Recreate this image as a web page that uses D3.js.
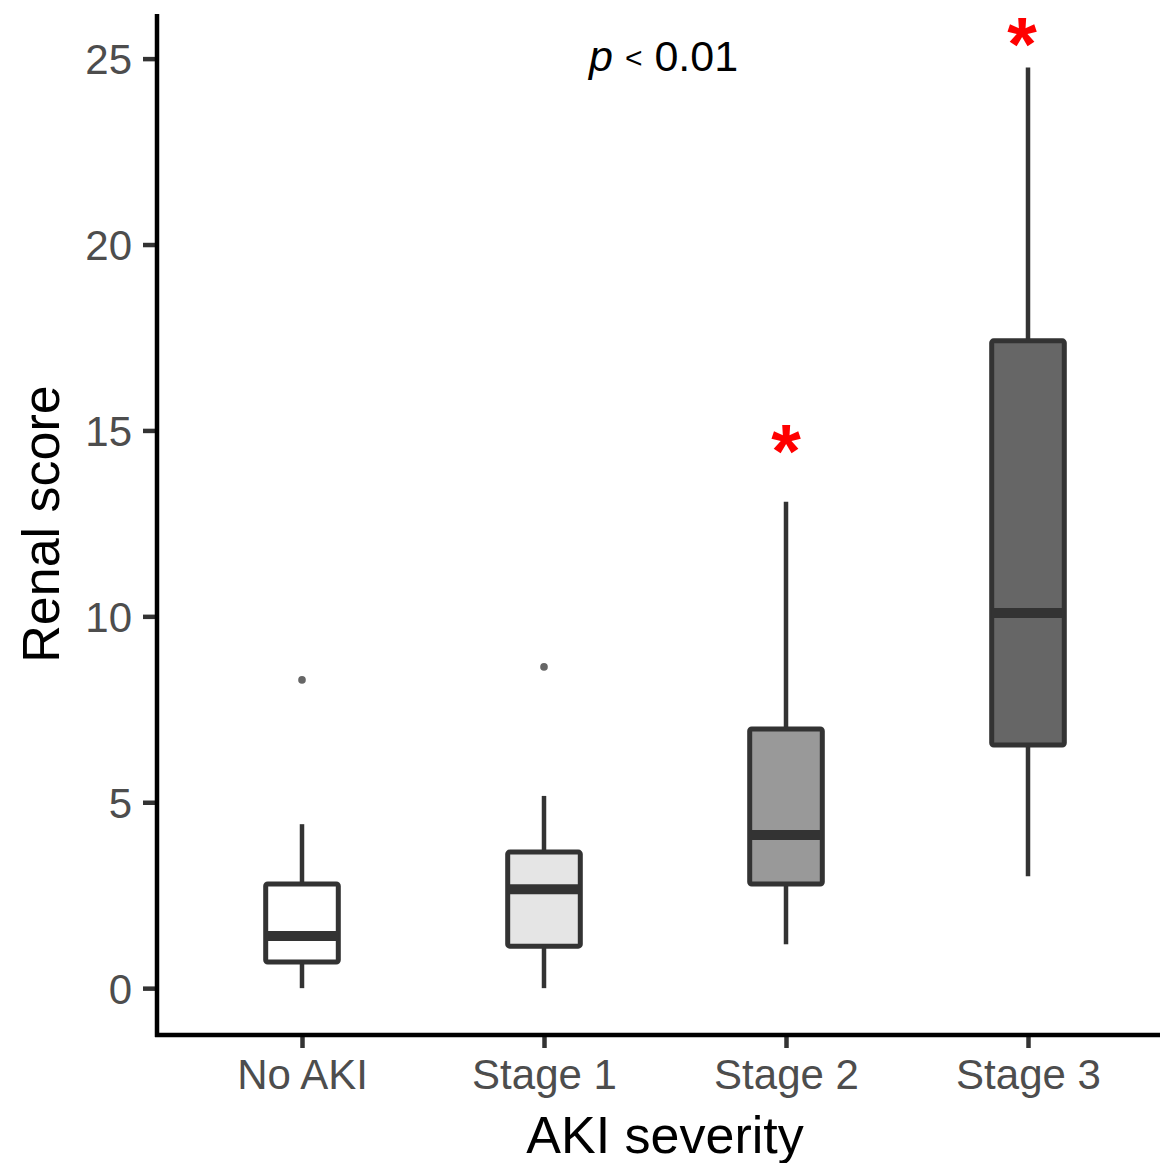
<!DOCTYPE html>
<html><head><meta charset="utf-8">
<script src="https://cdn.jsdelivr.net/npm/d3@7"></script>
<style>body{margin:0;background:#fff}svg{display:block}</style>
</head><body>
<script>
const categories = ["No AKI", "Stage 1", "Stage 2", "Stage 3"];
const lowerWhisker = [0, 0, 1.18, 3.01];
const q1 = [0.70, 1.13, 2.80, 6.54];
const median = [1.40, 2.66, 4.12, 10.09];
const q3 = [2.80, 3.66, 6.97, 17.41];
const upperWhisker = [4.41, 5.17, 13.08, 24.76];
const outliers = [[8.29], [8.64], [], []];
const fills = ["#FFFFFF", "#E5E5E5", "#999999", "#666666"];
const starCategories = ["Stage 2", "Stage 3"];
const starValues = [14.75, 25.7];
const yTicks = [0, 5, 10, 15, 20, 25];

const W = 1160, H = 1163;
const svg = d3.select("body").append("svg").attr("width", W).attr("height", H);

const x = d3.scalePoint().domain(categories).range([302, 1028]);
const step = 242;
const y = d3.scaleLinear().domain([-1.26, 26.2]).range([1035, 14]);
const boxW = step * 0.3;
const ink = "#333333";
const font = "Liberation Sans, Arial, Helvetica, sans-serif";

const data = categories.map((c, i) => ({c, i, lo: lowerWhisker[i], q1: q1[i], med: median[i], q3: q3[i], hi: upperWhisker[i], out: outliers[i], fill: fills[i]}));

const g = svg.append("g");
const box = g.selectAll("g.box").data(data).join("g").attr("class", "box");
box.append("line").attr("x1", d => x(d.c)).attr("x2", d => x(d.c))
  .attr("y1", d => y(d.q3)).attr("y2", d => y(d.hi)).attr("stroke", ink).attr("stroke-width", 4.5);
box.append("line").attr("x1", d => x(d.c)).attr("x2", d => x(d.c))
  .attr("y1", d => y(d.q1)).attr("y2", d => y(d.lo)).attr("stroke", ink).attr("stroke-width", 4.5);
box.append("rect").attr("x", d => x(d.c) - boxW/2).attr("width", boxW)
  .attr("y", d => y(d.q3)).attr("height", d => y(d.q1) - y(d.q3))
  .attr("fill", d => d.fill).attr("stroke", ink).attr("stroke-width", 5).attr("rx", 2);
box.append("line").attr("x1", d => x(d.c) - boxW/2).attr("x2", d => x(d.c) + boxW/2)
  .attr("y1", d => y(d.med)).attr("y2", d => y(d.med)).attr("stroke", ink).attr("stroke-width", 10);
box.selectAll("circle").data(d => d.out.map(v => ({c: d.c, v}))).join("circle")
  .attr("cx", d => x(d.c)).attr("cy", d => y(d.v)).attr("r", 3.8).attr("fill", "#666666");

// significance stars
g.selectAll("text.star").data(starCategories.map((c, k) => ({c, v: starValues[k], k}))).join("text").attr("class", "star")
  .attr("x", d => x(d.c) - (d.c === "Stage 3" ? 6 : 0)).attr("y", d => y(d.v) + 37)
  .attr("text-anchor", "middle").attr("fill", "#FF0000")
  .attr("font-family", font).attr("font-size", 76).attr("font-weight", "bold")
  .text("*");

const yAxis = svg.append("g").attr("transform", "translate(157,0)")
  .call(d3.axisLeft(y).tickValues(yTicks).tickSize(14).tickPadding(11));
const xAxis = svg.append("g").attr("transform", "translate(0,1035)")
  .call(d3.axisBottom(x).tickSize(13).tickPadding(11));
[yAxis, xAxis].forEach(a => {
  a.select(".domain").remove();
  a.selectAll(".tick line").attr("stroke", ink).attr("stroke-width", 4.5);
  a.selectAll(".tick text").attr("fill", "#4D4D4D").attr("font-family", font).attr("font-size", 42);
});
yAxis.selectAll(".tick text").attr("dy", "0.36em");
xAxis.selectAll(".tick text").attr("dy", "0.72em");

svg.append("line").attr("x1", 157).attr("x2", 157).attr("y1", 14).attr("y2", 1037)
  .attr("stroke", "#000").attr("stroke-width", 4.5);
svg.append("line").attr("x1", 155).attr("x2", W).attr("y1", 1035).attr("y2", 1035)
  .attr("stroke", "#000").attr("stroke-width", 4.5);

svg.append("text").attr("x", 665).attr("y", 1153).attr("text-anchor", "middle")
  .attr("font-family", font).attr("font-size", 52).attr("fill", "#000").text("AKI severity");
svg.append("text").attr("transform", "translate(59,524) rotate(-90)").attr("text-anchor", "middle")
  .attr("font-family", font).attr("font-size", 52).attr("fill", "#000").text("Renal score");

const pt = svg.append("text").attr("x", 589).attr("y", 71)
  .attr("font-family", font).attr("font-size", 43).attr("fill", "#000");
pt.append("tspan").attr("font-style", "italic").text("p");
pt.append("tspan").attr("font-size", 30).attr("dx", 12).attr("dy", -3).text("<");
pt.append("tspan").attr("dx", 12).attr("dy", 3).text("0.01");
</script>
</body></html>
